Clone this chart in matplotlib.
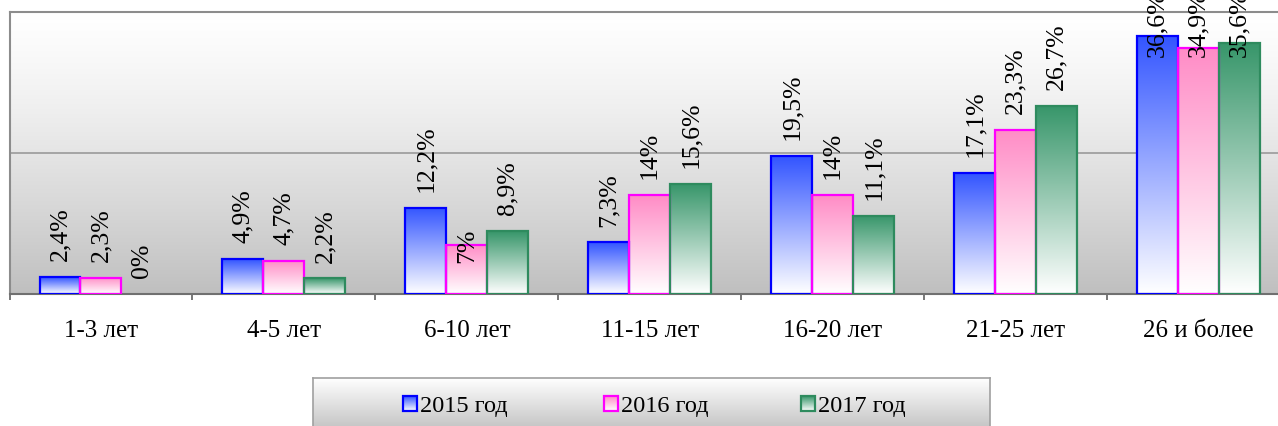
import numpy as np
import matplotlib
matplotlib.use('Agg')
import matplotlib.pyplot as plt
from matplotlib.patches import Rectangle

plt.rcParams['font.family'] = ['Liberation Serif', 'DejaVu Serif']

categories = ['1-3 лет', '4-5 лет', '6-10 лет', '11-15 лет', '16-20 лет', '21-25 лет', '26 и более']
series_names = ['2015 год', '2016 год', '2017 год']
v2015 = [2.4, 4.9, 12.2, 7.3, 19.5, 17.1, 36.6]
v2016 = [2.3, 4.7, 7, 14, 14, 23.3, 34.9]
v2017 = [0, 2.2, 8.9, 15.6, 11.1, 26.7, 35.6]

top_colors = ['#3355ff', '#ff8cc6', '#37966a']
edge_colors = ['#0000ff', '#ff00ff', '#2e8b5e']


def bar_gradient(color, n=128):
    # colour at the top fading to white at the bottom
    c = np.array(matplotlib.colors.to_rgb(color))
    s = np.linspace(0, 1, n)[:, None]
    img = c * (1 - s) + np.ones(3) * s
    return img[:, None, :]


def gray_gradient(bottom_gray, n=256, power=1.3):
    s = np.linspace(0, 1, n) ** power
    g = 1 - (1 - bottom_gray) * s
    return np.stack([g, g, g], axis=-1)[:, None, :]


W, H = 1278, 427
fig = plt.figure(figsize=(W / 100, H / 100), dpi=100)
fig.patch.set_facecolor('white')

# plot area in pixels: left 9.5, right 1290 (past the edge), top 12.7, bottom 295
ax = fig.add_axes([9.5 / W, (H - 295) / H, 1280.5 / W, 282.3 / H])
ax.set_facecolor('none')

x = np.arange(len(categories))
ymax = 40
ax.imshow(gray_gradient(0.75), extent=[-0.5, len(categories) - 0.5, 0, ymax],
          aspect='auto', zorder=0, interpolation='bilinear')
ax.axhline(20, color='#a0a0a0', lw=1.3, zorder=1)

w = 0.224
all_vals = [v2015, v2016, v2017]
for k, vals in enumerate(all_vals):
    bars = ax.bar(x + (k - 1) * w, vals, width=w, facecolor='none',
                  edgecolor=edge_colors[k], lw=1.6, zorder=3)
    for r in bars:
        h = r.get_height()
        if h <= 0:
            r.set_edgecolor('none')
            continue
        x0 = r.get_x()
        ax.imshow(bar_gradient(top_colors[k]), extent=[x0, x0 + r.get_width(), 0, h],
                  aspect='auto', zorder=2, interpolation='bilinear')

# value labels, kept inside the top of the plot area
label_cap = 33.7
label_drop = {(1, 2): 4.8}
for k, vals in enumerate(all_vals):
    for i, v in enumerate(vals):
        txt = f'{v:g}'.replace('.', ',') + '%'
        y = min(v + 2.4, label_cap) - label_drop.get((k, i), 0)
        ax.text(x[i] + (k - 1) * w, y, txt, rotation=90, ha='center', va='bottom',
                fontsize=18.5, color='black', zorder=5, clip_on=False)

ax.set_xlim(-0.5, len(categories) - 0.5)
ax.set_ylim(0, ymax)
ax.set_yticks([])
ax.set_xticks(x)
ax.set_xticklabels(categories, fontsize=18)
ax.set_xticks(np.arange(len(categories) + 1) - 0.5, minor=True)
ax.tick_params(axis='x', which='major', length=0, pad=18)
ax.tick_params(axis='x', which='minor', length=4, width=1.2, color='#606060', direction='out')
for side in ['top', 'left', 'right']:
    ax.spines[side].set_color('#8c8c8c')
    ax.spines[side].set_linewidth(1.5)
ax.spines['bottom'].set_color('#707070')
ax.spines['bottom'].set_linewidth(1.5)

# legend box drawn in its own axes (pixel units)
lw_px, lh_px = 677, 61
lax = fig.add_axes([313 / W, (H - 440) / H, lw_px / W, lh_px / H])
lax.set_xlim(0, lw_px)
lax.set_ylim(0, lh_px)
lax.imshow(gray_gradient(0.72, power=1.0), extent=[0, lw_px, 0, lh_px],
           aspect='auto', zorder=0, interpolation='bilinear')
lax.set_xticks([])
lax.set_yticks([])
for sp in lax.spines.values():
    sp.set_color('#a0a0a0')
    sp.set_linewidth(1.2)

entry_x = [90, 291, 488]
for k, name in enumerate(series_names):
    ex = entry_x[k]
    lax.imshow(bar_gradient(top_colors[k]), extent=[ex, ex + 14, 28, 43],
               aspect='auto', zorder=2, interpolation='bilinear')
    lax.add_patch(Rectangle((ex, 28), 14, 15, facecolor='none',
                            edgecolor=edge_colors[k], lw=1.6, zorder=3))
    lax.text(ex + 17, 33.5, name, fontsize=17.5, va='center', ha='left', color='black')
lax.set_xlim(0, lw_px)
lax.set_ylim(0, lh_px)

fig.savefig('out.png', dpi=100)
